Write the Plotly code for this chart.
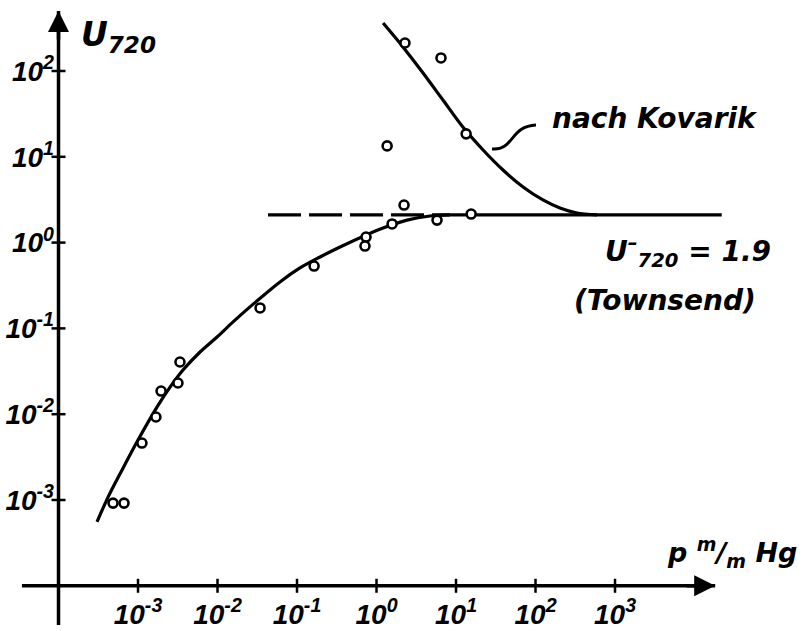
import math
import plotly.graph_objects as go

# ---------------- data ----------------
# measured points, lower branch (p in mm Hg, U_720)
p_low = [4.85e-4, 6.67e-4, 1.12e-3, 1.68e-3, 1.95e-3, 3.18e-3, 3.37e-3,
         3.43e-2, 0.164, 0.738, 0.716, 1.57, 2.22, 5.77, 15.5]
u_low = [9.2e-4, 9.2e-4, 4.61e-3, 9.27e-3, 1.86e-2, 2.31e-2, 4.06e-2,
         0.173, 0.533, 1.16, 0.912, 1.65, 2.74, 1.83, 2.15]

# measured points, upper branch (Kovarik)
p_kov_pts = [1.36, 2.28, 6.47, 13.4]
u_kov_pts = [13.4, 212.0, 142.0, 18.5]

# fitted curve through the lower branch
p_curve = [3.05e-4, 4.20e-4, 6.30e-4, 1.0e-3, 1.73e-3, 2.53e-3, 3.68e-3, 6.03e-3,
           9.86e-3, 1.57e-2, 2.56e-2, 6.11e-2, 0.109, 0.195, 0.348, 1.21, 2.42,
           4.71, 8.41]
u_curve = [5.55e-4, 1.08e-3, 2.24e-3, 5.0e-3, 1.21e-2, 2.07e-2, 3.27e-2, 5.31e-2,
           7.94e-2, 0.119, 0.178, 0.348, 0.506, 0.679, 0.889, 1.48, 1.83,
           2.04, 2.10]

# curve "nach Kovarik"
p_kov = [1.21, 2.15, 3.85, 6.85, 12.2, 21.9, 39.0, 69.7, 124.0, 203.0, 333.0, 594.0]
u_kov = [362.0, 191.0, 94.8, 45.9, 22.2, 12.0, 7.01, 4.45, 3.14, 2.53, 2.21, 2.10]

# Townsend level U_720 = 1.9 (as drawn)
u_level = 2.10
p_level_dashed = [0.0432, 8.41]
p_level_solid = [8.41, 2.2e4]

# axes
x_ticks = [1e-3, 1e-2, 1e-1, 1e0, 1e1, 1e2, 1e3]
x_ticktext = ["10<sup>-3</sup>", "10<sup>-2</sup>", "10<sup>-1</sup>", "10<sup>0</sup>",
              "10<sup>1</sup>", "10<sup>2</sup>", "10<sup>3</sup>"]
y_ticks = [1e-3, 1e-2, 1e-1, 1e0, 1e1, 1e2]
y_ticktext = ["10<sup>-3</sup>", "10<sup>-2</sup>", "10<sup>-1</sup>", "10<sup>0</sup>",
              "10<sup>1</sup>", "10<sup>2</sup>"]
origin = 1e-4
x_axis_span = [10 ** -4.46, 10 ** 4.26]
y_axis_span = [10 ** -4.457, 10 ** 2.70]

# ---------------- figure ----------------
W, H = 802, 631
FONT = "DejaVu Sans"
TICKFONT = "Liberation Sans"
INK = "black"

def px(xp):
    return xp / W

def py(yp):
    return 1 - yp / H

fig = go.Figure()

# axis lines
fig.add_trace(go.Scatter(x=x_axis_span, y=[origin, origin], mode="lines",
                         line=dict(color=INK, width=3.5), hoverinfo="skip"))
fig.add_trace(go.Scatter(x=[origin, origin], y=y_axis_span, mode="lines",
                         line=dict(color=INK, width=3.5), hoverinfo="skip"))
# tick marks crossing the axes
fig.add_trace(go.Scatter(x=x_ticks, y=[origin] * len(x_ticks), mode="markers",
                         marker=dict(symbol="line-ns", size=10,
                                     line=dict(color=INK, width=2.5)),
                         hoverinfo="skip"))
fig.add_trace(go.Scatter(x=[origin] * len(y_ticks), y=y_ticks, mode="markers",
                         marker=dict(symbol="line-ew", size=10,
                                     line=dict(color=INK, width=2.5)),
                         hoverinfo="skip"))

# level line
fig.add_trace(go.Scatter(x=p_level_dashed, y=[u_level] * 2, mode="lines",
                         line=dict(color=INK, width=3.2, dash="33px,8px")))
fig.add_trace(go.Scatter(x=p_level_solid, y=[u_level] * 2, mode="lines",
                         line=dict(color=INK, width=3.2)))
# curves
fig.add_trace(go.Scatter(x=p_curve, y=u_curve, mode="lines",
                         line=dict(color=INK, width=3.2, shape="spline",
                                   smoothing=1.0, simplify=False)))
fig.add_trace(go.Scatter(x=p_kov, y=u_kov, mode="lines",
                         line=dict(color=INK, width=3.2, shape="spline",
                                   smoothing=0.8, simplify=False)))
# points
circle = dict(symbol="circle", size=9, color="white", line=dict(color=INK, width=2.6))
fig.add_trace(go.Scatter(x=p_low, y=u_low, mode="markers", marker=circle))
fig.add_trace(go.Scatter(x=p_kov_pts, y=u_kov_pts, mode="markers", marker=circle))

# arrowheads
fig.add_annotation(x=math.log10(x_axis_span[1]), y=math.log10(origin), xref="x", yref="y",
                   showarrow=True, ax=-30, ay=0, arrowhead=2, arrowsize=1.2,
                   arrowwidth=3.5, arrowcolor=INK, text="")
fig.add_annotation(x=math.log10(origin), y=math.log10(y_axis_span[1]), xref="x", yref="y",
                   showarrow=True, ax=0, ay=30, arrowhead=2, arrowsize=1.2,
                   arrowwidth=3.5, arrowcolor=INK, text="")

tfont = dict(family=TICKFONT, size=28, color=INK, style="italic", weight="bold")
lfont = dict(family=FONT, size=28, color=INK, style="italic", weight="bold")

def label(xp, yp, text, font=lfont):
    fig.add_annotation(x=px(xp), y=py(yp), xref="paper", yref="paper",
                       xanchor="center", yanchor="middle", showarrow=False,
                       text=text, font=font)

# labels
label(118, 36, "U<sub>720</sub>",
      font=dict(family=FONT, size=33, color=INK, style="italic", weight="bold"))
label(655, 118, "nach Kovarik")
label(688, 252, "U<sup>–</sup><sub>720</sub> = 1.9")
label(665, 300, "(Townsend)")
label(732, 552, "p <sup>m</sup>/<sub>m</sub> Hg",
      font=dict(family=FONT, size=27, color=INK, style="italic", weight="bold"))

# leader line from curve to "nach Kovarik"
fig.add_shape(type="path", xref="paper", yref="paper",
              path=(f"M {px(492)} {py(149)} C {px(514)} {py(151)} "
                    f"{px(510)} {py(126)} {px(536)} {py(125)}"),
              line=dict(color=INK, width=3))

fig.update_layout(
    width=W, height=H, margin=dict(l=0, r=0, t=0, b=0),
    paper_bgcolor="white", plot_bgcolor="white", showlegend=False,
    xaxis=dict(type="log", range=[-4.736, 5.352], showgrid=False, zeroline=False,
               showline=False, anchor="free", position=py(587), ticks="",
               tickvals=x_ticks, ticktext=x_ticktext, tickfont=tfont,
               automargin=False, ticklabelstandoff=8),
    yaxis=dict(type="log", range=[-4.527, 2.8275], showgrid=False, zeroline=False,
               showline=False, anchor="free", position=px(60), ticks="",
               tickvals=y_ticks, ticktext=y_ticktext, tickfont=tfont,
               automargin=False, ticklabelstandoff=6),
)

fig.write_html("out.html")
